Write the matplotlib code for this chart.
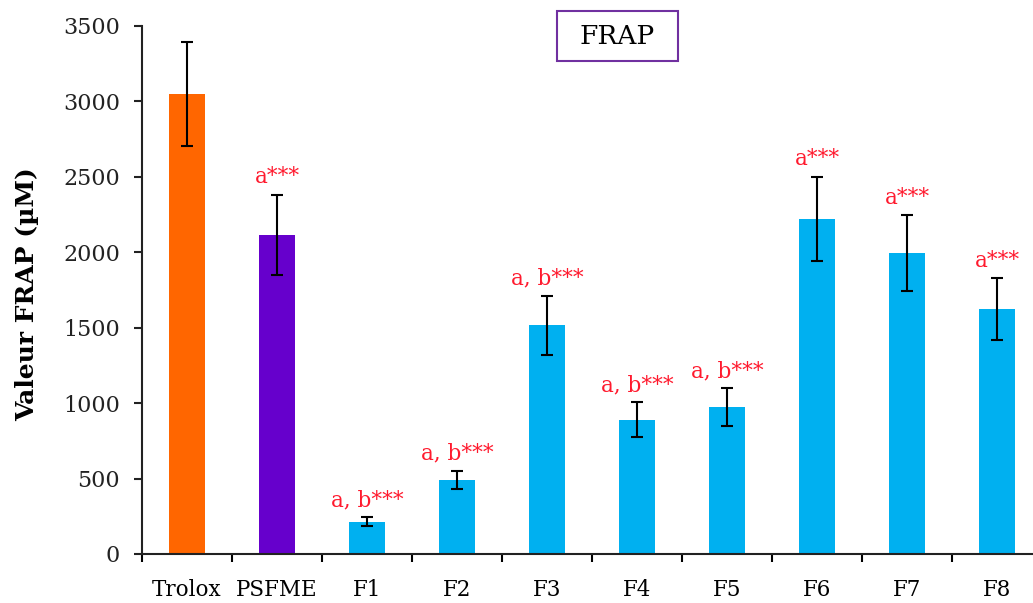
import matplotlib
matplotlib.use("Agg")
import matplotlib.pyplot as plt
from matplotlib.patches import Rectangle

# data
samples = ["Trolox", "PSFME", "F1", "F2", "F3", "F4", "F5", "F6", "F7", "F8"]
frap = [3047, 2116, 214, 493, 1515, 890, 972, 2220, 1995, 1622]
errors = [345, 265, 28, 60, 195, 115, 125, 280, 253, 207]
marks = ["", "a***", "a, b***", "a, b***", "a, b***", "a, b***", "a, b***",
         "a***", "a***", "a***"]
colors = ["#FF6600", "#6600CC"] + ["#00B0F0"] * 8

plt.rcParams["font.family"] = "DejaVu Serif"

fig = plt.figure(figsize=(10.33, 6.03), dpi=100)
ax = fig.add_axes([0.1375, 0.0813, 0.8625, 0.8757])

x = list(range(len(samples)))
ax.bar(x, frap, width=0.39, color=colors, edgecolor="none", zorder=2)
ax.errorbar(x, frap, yerr=errors, fmt="none", ecolor="black",
            elinewidth=1.5, capsize=4.5, capthick=1.5, zorder=3)

for i in x:  # significance letters above each error bar
    if marks[i]:
        ax.text(i, frap[i] + errors[i] + 75, marks[i], color="#FF1A2E",
                fontsize=15.5, ha="center", va="baseline", clip_on=False)

ax.set_xlim(-0.5, 9.4)
ax.set_ylim(0, 3500)
ax.set_yticks(range(0, 3501, 500))
ax.set_xticks([i - 0.5 for i in x], minor=False)
ax.set_xticklabels([])
ax.set_xticks(x, minor=True)
ax.set_xticklabels(samples, minor=True, fontsize=15.5)
ax.tick_params(axis="x", which="minor", length=0, pad=18)
ax.tick_params(axis="x", which="major", length=6, width=1.5, direction="out")
ax.tick_params(axis="y", length=6, width=1.5, labelsize=16, pad=10,
               colors="#222222")

for side in ["top", "right"]:
    ax.spines[side].set_visible(False)
for side in ["left", "bottom"]:
    ax.spines[side].set_linewidth(1.5)
    ax.spines[side].set_color("#222222")

ax.set_ylabel("Valeur FRAP (µM)", fontsize=18, fontweight="bold")
ax.yaxis.set_label_coords(-0.115, 0.492)

# boxed title
fig.patches.append(Rectangle((557 / 1033, 1 - 61 / 603), 121 / 1033, 50 / 603,
                             transform=fig.transFigure, fill=False,
                             edgecolor="#7030A0", linewidth=1.5))
fig.text(617.5 / 1033, 1 - 37 / 603, "FRAP", fontsize=19, ha="center",
         va="center")

fig.savefig("out.png", dpi=100)
